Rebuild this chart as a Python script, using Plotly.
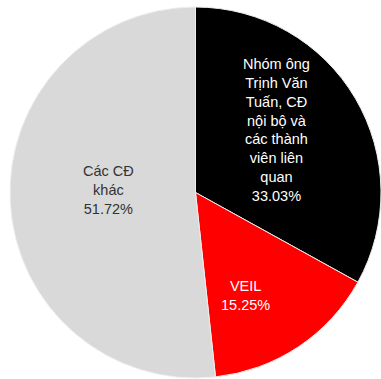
import plotly.graph_objects as go

labels = ["Nhóm ông Trịnh Văn Tuấn, CĐ nội bộ và các thành viên liên quan", "VEIL", "Các CĐ khác"]
label_lines = ["Nhóm ông<br>Trịnh Văn<br>Tuấn, CĐ<br>nội bộ và<br>các thành<br>viên liên<br>quan", "VEIL", "Các CĐ<br>khác"]
values = [33.03, 15.25, 51.72]
colors = ["#000000", "#FF0000", "#D9D9D9"]
text_colors = ["#FFFFFF", "#FFFFFF", "#333333"]

W, H = 381, 379
# label centre positions (pixels from top-left), layout only
label_px = [(276, 130), (245, 295), (108, 190)]

fig = go.Figure(go.Pie(
    labels=labels,
    values=values,
    textinfo="none",
    sort=False,
    direction="clockwise",
    rotation=0,
    marker=dict(colors=colors, line=dict(color="#EEEEEE", width=1)),
    domain=dict(x=[10/W, 1.0], y=[1/H, 1 - 7/H]),
    showlegend=False,
    hoverinfo="label+percent",
))

for l, v, c, (px, py) in zip(label_lines, values, text_colors, label_px):
    fig.add_annotation(
        x=px / W, y=1 - py / H, xref="paper", yref="paper",
        text=f"{l}<br>{v:.2f}%", showarrow=False,
        xanchor="center", yanchor="middle", align="center",
        font=dict(family="Liberation Sans, Arial, sans-serif", size=14.5, color=c),
    )

fig.update_layout(
    width=W, height=H,
    margin=dict(l=0, r=0, t=0, b=0),
    paper_bgcolor="#FFFFFF",
)

fig.write_html("out.html")
